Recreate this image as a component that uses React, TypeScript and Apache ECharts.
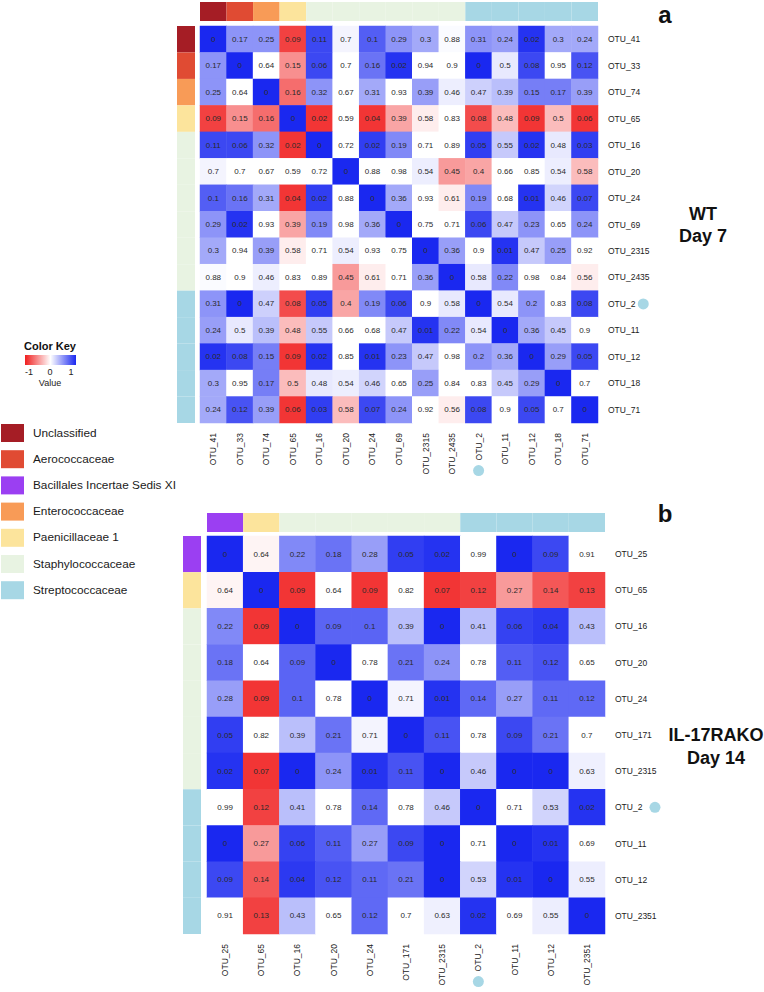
import React, { useEffect, useRef } from "react";
import * as echarts from "echarts";

// ---------- DATA ----------
const catA = ["OTU_41", "OTU_33", "OTU_74", "OTU_65", "OTU_16", "OTU_20", "OTU_24", "OTU_69", "OTU_2315", "OTU_2435", "OTU_2", "OTU_11", "OTU_12", "OTU_18", "OTU_71"];
const familyA = ["Unclassified", "Aerococcaceae", "Enterococcaceae", "Paenicillaceae 1", "Staphylococcaceae", "Staphylococcaceae", "Staphylococcaceae", "Staphylococcaceae", "Staphylococcaceae", "Staphylococcaceae", "Streptococcaceae", "Streptococcaceae", "Streptococcaceae", "Streptococcaceae", "Streptococcaceae"];

// p-values (cell text), WT Day 7
const pA = [
  [0, 0.17, 0.25, 0.09, 0.11, 0.7, 0.1, 0.29, 0.3, 0.88, 0.31, 0.24, 0.02, 0.3, 0.24],
  [0.17, 0, 0.64, 0.15, 0.06, 0.7, 0.16, 0.02, 0.94, 0.9, 0, 0.5, 0.08, 0.95, 0.12],
  [0.25, 0.64, 0, 0.16, 0.32, 0.67, 0.31, 0.93, 0.39, 0.46, 0.47, 0.39, 0.15, 0.17, 0.39],
  [0.09, 0.15, 0.16, 0, 0.02, 0.59, 0.04, 0.39, 0.58, 0.83, 0.08, 0.48, 0.09, 0.5, 0.06],
  [0.11, 0.06, 0.32, 0.02, 0, 0.72, 0.02, 0.19, 0.71, 0.89, 0.05, 0.55, 0.02, 0.48, 0.03],
  [0.7, 0.7, 0.67, 0.59, 0.72, 0, 0.88, 0.98, 0.54, 0.45, 0.4, 0.66, 0.85, 0.54, 0.58],
  [0.1, 0.16, 0.31, 0.04, 0.02, 0.88, 0, 0.36, 0.93, 0.61, 0.19, 0.68, 0.01, 0.46, 0.07],
  [0.29, 0.02, 0.93, 0.39, 0.19, 0.98, 0.36, 0, 0.75, 0.71, 0.06, 0.47, 0.23, 0.65, 0.24],
  [0.3, 0.94, 0.39, 0.58, 0.71, 0.54, 0.93, 0.75, 0, 0.36, 0.9, 0.01, 0.47, 0.25, 0.92],
  [0.88, 0.9, 0.46, 0.83, 0.89, 0.45, 0.61, 0.71, 0.36, 0, 0.58, 0.22, 0.98, 0.84, 0.56],
  [0.31, 0, 0.47, 0.08, 0.05, 0.4, 0.19, 0.06, 0.9, 0.58, 0, 0.54, 0.2, 0.83, 0.08],
  [0.24, 0.5, 0.39, 0.48, 0.55, 0.66, 0.68, 0.47, 0.01, 0.22, 0.54, 0, 0.36, 0.45, 0.9],
  [0.02, 0.08, 0.15, 0.09, 0.02, 0.85, 0.01, 0.23, 0.47, 0.98, 0.2, 0.36, 0, 0.29, 0.05],
  [0.3, 0.95, 0.17, 0.5, 0.48, 0.54, 0.46, 0.65, 0.25, 0.84, 0.83, 0.45, 0.29, 0, 0.7],
  [0.24, 0.12, 0.39, 0.06, 0.03, 0.58, 0.07, 0.24, 0.92, 0.56, 0.08, 0.9, 0.05, 0.7, 0],
];

// correlation (cell colour), upper triangle rows (j > i), WT Day 7
const corrUpperA = [
  [0.5, 0.5, -0.85, 0.85, 0.05, 0.75, 0.5, 0.4, 0.02, 0.5, 0.45, 0.95, 0.4, 0.4],
  [0, -0.5, 0.85, 0, 0.65, 0.95, 0, 0, 1.0, 0.1, 0.85, 0, 0.8],
  [-0.65, 0.5, 0, 0.4, 0, 0.45, 0.08, 0.22, 0.3, 0.6, 0.6, 0.45],
  [-0.9, 0, -0.9, -0.4, -0.08, 0, -0.8, -0.3, -0.9, -0.3, -0.9],
  [0, 0.9, 0.55, 0, 0, 0.9, 0.25, 0.95, 0.1, 0.9],
  [0, 0, 0.08, -0.45, -0.4, 0, 0, 0.08, -0.3],
  [0.4, 0, -0.08, 0.55, 0, 0.95, 0.2, 0.85],
  [0, 0, 0.85, 0.25, 0.5, 0, 0.5],
  [0.45, 0, 0.95, 0.25, 0.45, 0],
  [0.1, 0.55, 0, 0, -0.08],
  [0.1, 0.5, 0, 0.85],
  [0.4, 0.25, 0],
  [0.45, 0.85],
  [0],
  [],
];

const catB = ["OTU_25", "OTU_65", "OTU_16", "OTU_20", "OTU_24", "OTU_171", "OTU_2315", "OTU_2", "OTU_11", "OTU_12", "OTU_2351"];
const familyB = ["Bacillales Incertae Sedis XI", "Paenicillaceae 1", "Staphylococcaceae", "Staphylococcaceae", "Staphylococcaceae", "Staphylococcaceae", "Staphylococcaceae", "Streptococcaceae", "Streptococcaceae", "Streptococcaceae", "Streptococcaceae"];

// p-values (cell text), IL-17RAKO Day 14
const pB = [
  [0, 0.64, 0.22, 0.18, 0.28, 0.05, 0.02, 0.99, 0, 0.09, 0.91],
  [0.64, 0, 0.09, 0.64, 0.09, 0.82, 0.07, 0.12, 0.27, 0.14, 0.13],
  [0.22, 0.09, 0, 0.09, 0.1, 0.39, 0, 0.41, 0.06, 0.04, 0.43],
  [0.18, 0.64, 0.09, 0, 0.78, 0.21, 0.24, 0.78, 0.11, 0.12, 0.65],
  [0.28, 0.09, 0.1, 0.78, 0, 0.71, 0.01, 0.14, 0.27, 0.11, 0.12],
  [0.05, 0.82, 0.39, 0.21, 0.71, 0, 0.11, 0.78, 0.09, 0.21, 0.7],
  [0.02, 0.07, 0, 0.24, 0.01, 0.11, 0, 0.46, 0, 0, 0.63],
  [0.99, 0.12, 0.41, 0.78, 0.14, 0.78, 0.46, 0, 0.71, 0.53, 0.02],
  [0, 0.27, 0.06, 0.11, 0.27, 0.09, 0, 0.71, 0, 0.01, 0.69],
  [0.09, 0.14, 0.04, 0.12, 0.11, 0.21, 0, 0.53, 0.01, 0, 0.55],
  [0.91, 0.13, 0.43, 0.65, 0.12, 0.7, 0.63, 0.02, 0.69, 0.55, 0],
];

// correlation (cell colour), upper triangle rows (j > i), IL-17RAKO Day 14
const corrUpperB = [
  [-0.05, 0.55, 0.65, 0.45, 0.9, 0.95, 0, 1.0, 0.85, 0],
  [-0.9, 0, -0.9, 0, -0.9, -0.85, -0.45, -0.75, -0.85],
  [0.72, 0.72, 0.3, 1.0, 0.3, 0.88, 0.92, 0.3],
  [0, 0.65, 0.5, 0, 0.75, 0.8, 0],
  [0.05, 0.95, 0.7, 0.45, 0.7, 0.7],
  [0.8, 0, 0.85, 0.65, 0],
  [0.25, 1.0, 1.0, 0.07],
  [0, 0.2, 0.95],
  [0.95, 0],
  [0.08],
  [],
];

const legendFamilies = ["Unclassified", "Aerococcaceae", "Bacillales Incertae Sedis XI", "Enterococcaceae", "Paenicillaceae 1", "Staphylococcaceae", "Streptococcaceae"];
const familyColors = ["#a51d25", "#e04b33", "#9b3ff2", "#f89b57", "#fce49c", "#e8f3e2", "#a7d7e5"];
const colorKeyTicks = ["-1", "0", "1"];
const highlighted = "OTU_2";

// ---------- HELPERS ----------
const RED = "#f01f1f";
const BLUE = "#1a28f0";
const FONT = "Liberation Sans, Arial, Helvetica, sans-serif";
const CIRCLE = "#a7d7e5";

function famColor(f: string) {
  return familyColors[legendFamilies.indexOf(f)];
}

function fullCorr(upper: number[][]) {
  const n = upper.length;
  const m: number[][] = [];
  for (let i = 0; i < n; i++) m.push(new Array(n).fill(0));
  for (let i = 0; i < n; i++) {
    m[i][i] = 1;
    for (let k = 0; k < upper[i].length; k++) {
      const j = i + 1 + k;
      m[i][j] = upper[i][k];
      m[j][i] = upper[i][k];
    }
  }
  return m;
}

function heatData(corr: number[][], p: number[][]) {
  const out: number[][] = [];
  for (let i = 0; i < corr.length; i++)
    for (let j = 0; j < corr.length; j++) out.push([j, i, corr[i][j], p[i][j]]);
  return out;
}

const rectItem = (fams: string[]) => (params: any, api: any) => {
  const c = api.coord([api.value(0), api.value(1)]);
  const s = api.size([1, 1]);
  return {
    type: "rect",
    shape: { x: c[0] - s[0] / 2, y: c[1] - s[1] / 2, width: s[0], height: s[1] },
    style: { fill: famColor(fams[params.dataIndex]) },
  };
};

export default function App() {
  const ref = useRef<HTMLDivElement>(null);
  useEffect(() => {
    if (!ref.current) return;
    const chart = echarts.init(ref.current, undefined, { renderer: "svg" });
    const corrA = fullCorr(corrUpperA);
    const corrB = fullCorr(corrUpperB);

    const labelStyle = { fontSize: 8.5, color: "#222", fontFamily: FONT };
    const richCircle = { c: { width: 11, height: 11, borderRadius: 6, backgroundColor: CIRCLE } };

    const mainX = (cats: string[], gridIndex: number, gap: string) => ({
      type: "category",
      gridIndex,
      data: cats,
      position: "bottom",
      axisLine: { show: false },
      axisTick: { show: false },
      splitLine: { show: false },
      axisLabel: {
        ...labelStyle,
        rotate: 90,
        margin: 10,
        interval: 0,
        formatter: (v: string) => (v === highlighted ? `{c| }${gap}${v}` : v),
        rich: richCircle,
      },
    });
    const mainY = (cats: string[], gridIndex: number, gap: string) => ({
      type: "category",
      gridIndex,
      data: cats,
      inverse: true,
      position: "right",
      axisLine: { show: false },
      axisTick: { show: false },
      splitLine: { show: false },
      axisLabel: {
        ...labelStyle,
        margin: 10,
        interval: 0,
        formatter: (v: string) => (v === highlighted ? `${v}${gap}{c| }` : v),
        rich: richCircle,
      },
    });
    const hiddenCat = (gridIndex: number, data: string[], inverse = false) => ({
      type: "category",
      gridIndex,
      data,
      inverse,
      show: false,
    });

    const heat = (data: number[][], axisIndex: number) => ({
      type: "heatmap",
      xAxisIndex: axisIndex,
      yAxisIndex: axisIndex,
      data,
      itemStyle: { borderWidth: 0 },
      emphasis: { disabled: true },
      label: {
        show: true,
        fontSize: 8,
        color: "#2a2a2a",
        fontFamily: FONT,
        formatter: (p: any) => String(p.value[3]),
      },
    });

    const legendGraphics: any[] = [];
    legendFamilies.forEach((f, i) => {
      legendGraphics.push({
        type: "rect",
        left: 1,
        top: 424 + i * 26.2,
        shape: { width: 23, height: 18 },
        style: { fill: familyColors[i] },
      });
      legendGraphics.push({
        type: "text",
        left: 33,
        top: 426.5 + i * 26.2,
        style: { text: f, fontSize: 11.8, fill: "#1a1a1a", fontFamily: FONT },
      });
    });

    const keyTickGraphics = colorKeyTicks.map((t, i) => ({
      type: "text",
      x: 29 + i * 21,
      y: 372,
      style: { text: t, fontSize: 9, fill: "#222", fontFamily: FONT, align: "center", verticalAlign: "middle" },
    }));

    chart.setOption({
      animation: false,
      textStyle: { fontFamily: FONT },
      visualMap: {
        show: false,
        type: "continuous",
        seriesIndex: [0, 1],
        dimension: 2,
        min: -1,
        max: 1,
        inRange: { color: [RED, "#ffffff", BLUE] },
      },
      grid: [
        { left: 200, top: 26, width: 398, height: 397 },
        { left: 200, top: 2, width: 398, height: 19 },
        { left: 177, top: 26, width: 18, height: 397 },
        { left: 207, top: 536, width: 398, height: 398 },
        { left: 207, top: 513, width: 398, height: 19 },
        { left: 183, top: 536, width: 18, height: 398 },
      ],
      xAxis: [
        mainX(catA, 0, "  "),
        hiddenCat(1, catA),
        hiddenCat(2, ["bar"]),
        mainX(catB, 3, "  "),
        hiddenCat(4, catB),
        hiddenCat(5, ["bar"]),
      ],
      yAxis: [
        mainY(catA, 0, " "),
        hiddenCat(1, ["bar"]),
        hiddenCat(2, catA, true),
        mainY(catB, 3, "   "),
        hiddenCat(4, ["bar"]),
        hiddenCat(5, catB, true),
      ],
      series: [
        heat(heatData(corrA, pA), 0),
        heat(heatData(corrB, pB), 3),
        {
          type: "custom",
          xAxisIndex: 1,
          yAxisIndex: 1,
          data: familyA.map((_, j) => [j, 0]),
          renderItem: rectItem(familyA),
        },
        {
          type: "custom",
          xAxisIndex: 2,
          yAxisIndex: 2,
          data: familyA.map((_, i) => [0, i]),
          renderItem: rectItem(familyA),
        },
        {
          type: "custom",
          xAxisIndex: 4,
          yAxisIndex: 4,
          data: familyB.map((_, j) => [j, 0]),
          renderItem: rectItem(familyB),
        },
        {
          type: "custom",
          xAxisIndex: 5,
          yAxisIndex: 5,
          data: familyB.map((_, i) => [0, i]),
          renderItem: rectItem(familyB),
        },
      ],
      graphic: [
        { type: "text", x: 665, y: 14, style: { text: "a", fontSize: 24, fontWeight: "bold", fill: "#111", fontFamily: FONT, align: "center", verticalAlign: "middle" } },
        { type: "text", x: 703, y: 214, style: { text: "WT", fontSize: 18, fontWeight: "bold", fill: "#111", fontFamily: FONT, align: "center", verticalAlign: "middle" } },
        { type: "text", x: 703, y: 236, style: { text: "Day 7", fontSize: 18, fontWeight: "bold", fill: "#111", fontFamily: FONT, align: "center", verticalAlign: "middle" } },
        { type: "text", x: 665, y: 513, style: { text: "b", fontSize: 24, fontWeight: "bold", fill: "#111", fontFamily: FONT, align: "center", verticalAlign: "middle" } },
        { type: "text", x: 716, y: 735, style: { text: "IL-17RAKO", fontSize: 18, fontWeight: "bold", fill: "#111", fontFamily: FONT, align: "center", verticalAlign: "middle" } },
        { type: "text", x: 716, y: 758, style: { text: "Day 14", fontSize: 18, fontWeight: "bold", fill: "#111", fontFamily: FONT, align: "center", verticalAlign: "middle" } },
        { type: "text", x: 50, y: 346, style: { text: "Color Key", fontSize: 11, fontWeight: "bold", fill: "#111", fontFamily: FONT, align: "center", verticalAlign: "middle" } },
        {
          type: "rect",
          x: 25,
          y: 355,
          shape: { width: 51, height: 10 },
          style: {
            fill: new echarts.graphic.LinearGradient(0, 0, 1, 0, [
              { offset: 0, color: RED },
              { offset: 0.5, color: "#ffffff" },
              { offset: 1, color: BLUE },
            ]),
          },
        },
        ...keyTickGraphics,
        { type: "text", x: 50, y: 383, style: { text: "Value", fontSize: 9, fill: "#222", fontFamily: FONT, align: "center", verticalAlign: "middle" } },
        ...legendGraphics,
      ],
    });
    return () => chart.dispose();
  }, []);
  return (
    <div
      ref={ref}
      style={{ position: "absolute", left: 0, top: 0, width: 764, height: 992, background: "#fff" }}
    />
  );
}
